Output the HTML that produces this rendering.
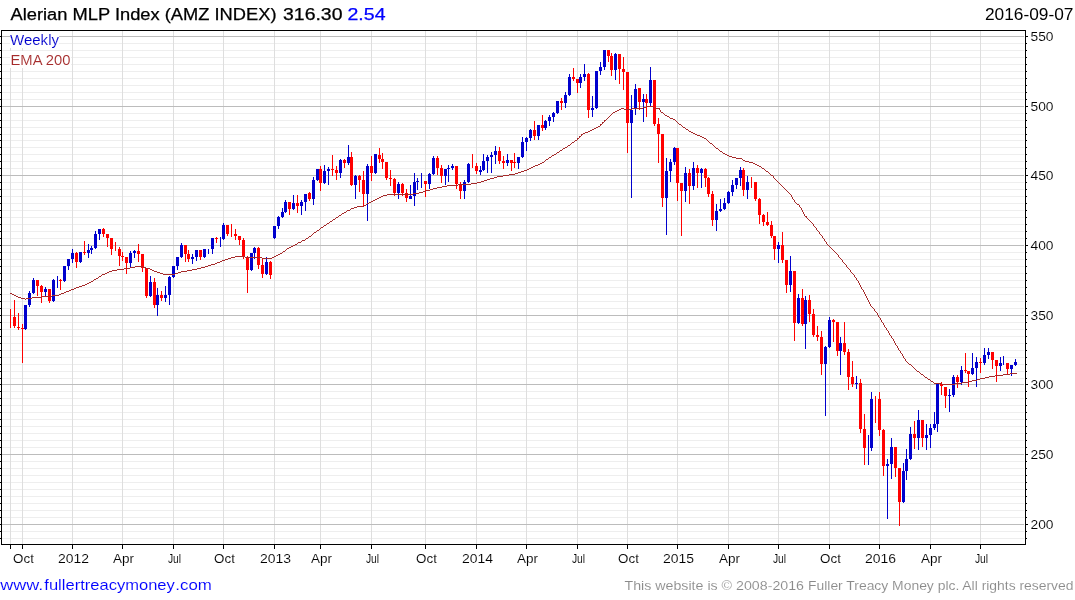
<!DOCTYPE html><html><head><meta charset="utf-8"><title>Alerian MLP Index</title>
<style>html,body{margin:0;padding:0;background:#fff;}body{width:1075px;height:600px;overflow:hidden;font-family:"Liberation Sans",sans-serif;}svg{display:block}text{font-family:"Liberation Sans",sans-serif;stroke:#fff;stroke-width:0.1px;}svg{will-change:transform;opacity:0.999}</style></head><body>
<svg width="1075" height="600" viewBox="0 0 1075 600">
<rect x="0" y="0" width="1075" height="600" fill="#fff"/>
<g shape-rendering="crispEdges">
<rect x="2" y="538" width="1022" height="1" fill="#eeeeee"/>
<rect x="2" y="531" width="1022" height="1" fill="#eeeeee"/>
<rect x="2" y="517" width="1022" height="1" fill="#eeeeee"/>
<rect x="2" y="510" width="1022" height="1" fill="#eeeeee"/>
<rect x="2" y="503" width="1022" height="1" fill="#eeeeee"/>
<rect x="2" y="496" width="1022" height="1" fill="#eeeeee"/>
<rect x="2" y="489" width="1022" height="1" fill="#eeeeee"/>
<rect x="2" y="482" width="1022" height="1" fill="#eeeeee"/>
<rect x="2" y="475" width="1022" height="1" fill="#eeeeee"/>
<rect x="2" y="468" width="1022" height="1" fill="#eeeeee"/>
<rect x="2" y="461" width="1022" height="1" fill="#eeeeee"/>
<rect x="2" y="447" width="1022" height="1" fill="#eeeeee"/>
<rect x="2" y="440" width="1022" height="1" fill="#eeeeee"/>
<rect x="2" y="433" width="1022" height="1" fill="#eeeeee"/>
<rect x="2" y="426" width="1022" height="1" fill="#eeeeee"/>
<rect x="2" y="419" width="1022" height="1" fill="#eeeeee"/>
<rect x="2" y="412" width="1022" height="1" fill="#eeeeee"/>
<rect x="2" y="405" width="1022" height="1" fill="#eeeeee"/>
<rect x="2" y="398" width="1022" height="1" fill="#eeeeee"/>
<rect x="2" y="391" width="1022" height="1" fill="#eeeeee"/>
<rect x="2" y="378" width="1022" height="1" fill="#eeeeee"/>
<rect x="2" y="371" width="1022" height="1" fill="#eeeeee"/>
<rect x="2" y="364" width="1022" height="1" fill="#eeeeee"/>
<rect x="2" y="357" width="1022" height="1" fill="#eeeeee"/>
<rect x="2" y="350" width="1022" height="1" fill="#eeeeee"/>
<rect x="2" y="343" width="1022" height="1" fill="#eeeeee"/>
<rect x="2" y="336" width="1022" height="1" fill="#eeeeee"/>
<rect x="2" y="329" width="1022" height="1" fill="#eeeeee"/>
<rect x="2" y="322" width="1022" height="1" fill="#eeeeee"/>
<rect x="2" y="308" width="1022" height="1" fill="#eeeeee"/>
<rect x="2" y="301" width="1022" height="1" fill="#eeeeee"/>
<rect x="2" y="294" width="1022" height="1" fill="#eeeeee"/>
<rect x="2" y="287" width="1022" height="1" fill="#eeeeee"/>
<rect x="2" y="280" width="1022" height="1" fill="#eeeeee"/>
<rect x="2" y="273" width="1022" height="1" fill="#eeeeee"/>
<rect x="2" y="266" width="1022" height="1" fill="#eeeeee"/>
<rect x="2" y="259" width="1022" height="1" fill="#eeeeee"/>
<rect x="2" y="252" width="1022" height="1" fill="#eeeeee"/>
<rect x="2" y="238" width="1022" height="1" fill="#eeeeee"/>
<rect x="2" y="231" width="1022" height="1" fill="#eeeeee"/>
<rect x="2" y="224" width="1022" height="1" fill="#eeeeee"/>
<rect x="2" y="217" width="1022" height="1" fill="#eeeeee"/>
<rect x="2" y="210" width="1022" height="1" fill="#eeeeee"/>
<rect x="2" y="203" width="1022" height="1" fill="#eeeeee"/>
<rect x="2" y="196" width="1022" height="1" fill="#eeeeee"/>
<rect x="2" y="189" width="1022" height="1" fill="#eeeeee"/>
<rect x="2" y="182" width="1022" height="1" fill="#eeeeee"/>
<rect x="2" y="168" width="1022" height="1" fill="#eeeeee"/>
<rect x="2" y="161" width="1022" height="1" fill="#eeeeee"/>
<rect x="2" y="154" width="1022" height="1" fill="#eeeeee"/>
<rect x="2" y="147" width="1022" height="1" fill="#eeeeee"/>
<rect x="2" y="140" width="1022" height="1" fill="#eeeeee"/>
<rect x="2" y="134" width="1022" height="1" fill="#eeeeee"/>
<rect x="2" y="127" width="1022" height="1" fill="#eeeeee"/>
<rect x="2" y="120" width="1022" height="1" fill="#eeeeee"/>
<rect x="2" y="113" width="1022" height="1" fill="#eeeeee"/>
<rect x="2" y="99" width="1022" height="1" fill="#eeeeee"/>
<rect x="2" y="92" width="1022" height="1" fill="#eeeeee"/>
<rect x="2" y="85" width="1022" height="1" fill="#eeeeee"/>
<rect x="2" y="78" width="1022" height="1" fill="#eeeeee"/>
<rect x="2" y="71" width="1022" height="1" fill="#eeeeee"/>
<rect x="2" y="64" width="1022" height="1" fill="#eeeeee"/>
<rect x="2" y="57" width="1022" height="1" fill="#eeeeee"/>
<rect x="2" y="50" width="1022" height="1" fill="#eeeeee"/>
<rect x="2" y="43" width="1022" height="1" fill="#eeeeee"/>
<rect x="10" y="31" width="1" height="513" fill="#dedede"/>
<rect x="22" y="31" width="1" height="513" fill="#dedede"/>
<rect x="72" y="31" width="1" height="513" fill="#dedede"/>
<rect x="122" y="31" width="1" height="513" fill="#dedede"/>
<rect x="173" y="31" width="1" height="513" fill="#dedede"/>
<rect x="223" y="31" width="1" height="513" fill="#dedede"/>
<rect x="274" y="31" width="1" height="513" fill="#dedede"/>
<rect x="320" y="31" width="1" height="513" fill="#dedede"/>
<rect x="371" y="31" width="1" height="513" fill="#dedede"/>
<rect x="425" y="31" width="1" height="513" fill="#dedede"/>
<rect x="476" y="31" width="1" height="513" fill="#dedede"/>
<rect x="526" y="31" width="1" height="513" fill="#dedede"/>
<rect x="577" y="31" width="1" height="513" fill="#dedede"/>
<rect x="627" y="31" width="1" height="513" fill="#dedede"/>
<rect x="677" y="31" width="1" height="513" fill="#dedede"/>
<rect x="728" y="31" width="1" height="513" fill="#dedede"/>
<rect x="778" y="31" width="1" height="513" fill="#dedede"/>
<rect x="829" y="31" width="1" height="513" fill="#dedede"/>
<rect x="879" y="31" width="1" height="513" fill="#dedede"/>
<rect x="930" y="31" width="1" height="513" fill="#dedede"/>
<rect x="980" y="31" width="1" height="513" fill="#dedede"/>
<rect x="2" y="524" width="1022" height="1" fill="#bcbcbc"/>
<rect x="2" y="454" width="1022" height="1" fill="#bcbcbc"/>
<rect x="2" y="384" width="1022" height="1" fill="#bcbcbc"/>
<rect x="2" y="315" width="1022" height="1" fill="#bcbcbc"/>
<rect x="2" y="245" width="1022" height="1" fill="#bcbcbc"/>
<rect x="2" y="175" width="1022" height="1" fill="#bcbcbc"/>
<rect x="2" y="106" width="1022" height="1" fill="#bcbcbc"/>
<rect x="2" y="36" width="1022" height="1" fill="#bcbcbc"/>
<rect x="10" y="31" width="49" height="17" fill="#fff"/>
<rect x="10" y="51" width="61" height="17" fill="#fff"/>
</g>
<g shape-rendering="crispEdges">
<rect x="10" y="309" width="1" height="19" fill="#ff0000"/>
<rect x="14" y="300" width="1" height="28" fill="#ff0000"/>
<rect x="13" y="317" width="3" height="9" fill="#ff0000"/>
<rect x="18" y="313" width="1" height="17" fill="#ff0000"/>
<rect x="17" y="327" width="3" height="1" fill="#ff0000"/>
<rect x="22" y="324" width="1" height="39" fill="#ff0000"/>
<rect x="21" y="328" width="3" height="1" fill="#ff0000"/>
<rect x="25" y="305" width="1" height="25" fill="#0000cd"/>
<rect x="24" y="305" width="3" height="24" fill="#0000cd"/>
<rect x="29" y="291" width="1" height="16" fill="#0000cd"/>
<rect x="28" y="293" width="3" height="12" fill="#0000cd"/>
<rect x="33" y="278" width="1" height="16" fill="#0000cd"/>
<rect x="32" y="280" width="3" height="13" fill="#0000cd"/>
<rect x="37" y="280" width="1" height="16" fill="#ff0000"/>
<rect x="36" y="280" width="3" height="6" fill="#ff0000"/>
<rect x="41" y="285" width="1" height="18" fill="#ff0000"/>
<rect x="40" y="286" width="3" height="6" fill="#ff0000"/>
<rect x="45" y="287" width="1" height="9" fill="#0000cd"/>
<rect x="44" y="289" width="3" height="3" fill="#0000cd"/>
<rect x="49" y="289" width="1" height="14" fill="#ff0000"/>
<rect x="48" y="289" width="3" height="12" fill="#ff0000"/>
<rect x="53" y="279" width="1" height="23" fill="#0000cd"/>
<rect x="52" y="280" width="3" height="21" fill="#0000cd"/>
<rect x="57" y="276" width="1" height="12" fill="#0000cd"/>
<rect x="60" y="279" width="1" height="11" fill="#ff0000"/>
<rect x="59" y="280" width="3" height="1" fill="#ff0000"/>
<rect x="64" y="266" width="1" height="16" fill="#0000cd"/>
<rect x="63" y="266" width="3" height="15" fill="#0000cd"/>
<rect x="68" y="259" width="1" height="11" fill="#0000cd"/>
<rect x="67" y="259" width="3" height="7" fill="#0000cd"/>
<rect x="72" y="249" width="1" height="14" fill="#0000cd"/>
<rect x="71" y="253" width="3" height="6" fill="#0000cd"/>
<rect x="76" y="252" width="1" height="16" fill="#ff0000"/>
<rect x="75" y="253" width="3" height="9" fill="#ff0000"/>
<rect x="80" y="252" width="1" height="11" fill="#0000cd"/>
<rect x="79" y="252" width="3" height="10" fill="#0000cd"/>
<rect x="84" y="241" width="1" height="14" fill="#ff0000"/>
<rect x="83" y="252" width="3" height="1" fill="#ff0000"/>
<rect x="88" y="244" width="1" height="14" fill="#0000cd"/>
<rect x="87" y="250" width="3" height="3" fill="#0000cd"/>
<rect x="91" y="246" width="1" height="8" fill="#0000cd"/>
<rect x="90" y="248" width="3" height="2" fill="#0000cd"/>
<rect x="95" y="231" width="1" height="18" fill="#0000cd"/>
<rect x="94" y="234" width="3" height="14" fill="#0000cd"/>
<rect x="99" y="229" width="1" height="11" fill="#0000cd"/>
<rect x="98" y="229" width="3" height="5" fill="#0000cd"/>
<rect x="103" y="228" width="1" height="9" fill="#ff0000"/>
<rect x="102" y="229" width="3" height="5" fill="#ff0000"/>
<rect x="107" y="234" width="1" height="13" fill="#ff0000"/>
<rect x="106" y="234" width="3" height="4" fill="#ff0000"/>
<rect x="111" y="238" width="1" height="17" fill="#ff0000"/>
<rect x="110" y="238" width="3" height="11" fill="#ff0000"/>
<rect x="115" y="242" width="1" height="9" fill="#ff0000"/>
<rect x="119" y="247" width="1" height="19" fill="#ff0000"/>
<rect x="118" y="249" width="3" height="7" fill="#ff0000"/>
<rect x="122" y="252" width="1" height="9" fill="#ff0000"/>
<rect x="121" y="256" width="3" height="1" fill="#ff0000"/>
<rect x="126" y="257" width="1" height="17" fill="#ff0000"/>
<rect x="125" y="257" width="3" height="6" fill="#ff0000"/>
<rect x="130" y="251" width="1" height="16" fill="#0000cd"/>
<rect x="129" y="253" width="3" height="10" fill="#0000cd"/>
<rect x="134" y="250" width="1" height="8" fill="#0000cd"/>
<rect x="133" y="251" width="3" height="2" fill="#0000cd"/>
<rect x="138" y="244" width="1" height="18" fill="#ff0000"/>
<rect x="137" y="251" width="3" height="3" fill="#ff0000"/>
<rect x="142" y="254" width="1" height="18" fill="#ff0000"/>
<rect x="141" y="254" width="3" height="14" fill="#ff0000"/>
<rect x="146" y="268" width="1" height="30" fill="#ff0000"/>
<rect x="145" y="268" width="3" height="28" fill="#ff0000"/>
<rect x="150" y="276" width="1" height="21" fill="#0000cd"/>
<rect x="149" y="282" width="3" height="14" fill="#0000cd"/>
<rect x="154" y="278" width="1" height="30" fill="#ff0000"/>
<rect x="153" y="282" width="3" height="23" fill="#ff0000"/>
<rect x="157" y="288" width="1" height="28" fill="#0000cd"/>
<rect x="156" y="295" width="3" height="10" fill="#0000cd"/>
<rect x="161" y="291" width="1" height="10" fill="#ff0000"/>
<rect x="160" y="295" width="3" height="3" fill="#ff0000"/>
<rect x="165" y="286" width="1" height="16" fill="#0000cd"/>
<rect x="164" y="295" width="3" height="3" fill="#0000cd"/>
<rect x="169" y="276" width="1" height="29" fill="#0000cd"/>
<rect x="168" y="277" width="3" height="18" fill="#0000cd"/>
<rect x="173" y="266" width="1" height="12" fill="#0000cd"/>
<rect x="172" y="266" width="3" height="11" fill="#0000cd"/>
<rect x="177" y="257" width="1" height="13" fill="#0000cd"/>
<rect x="176" y="257" width="3" height="9" fill="#0000cd"/>
<rect x="181" y="243" width="1" height="15" fill="#0000cd"/>
<rect x="180" y="245" width="3" height="12" fill="#0000cd"/>
<rect x="185" y="245" width="1" height="17" fill="#ff0000"/>
<rect x="184" y="245" width="3" height="9" fill="#ff0000"/>
<rect x="188" y="250" width="1" height="12" fill="#ff0000"/>
<rect x="187" y="254" width="3" height="5" fill="#ff0000"/>
<rect x="192" y="254" width="1" height="10" fill="#0000cd"/>
<rect x="191" y="257" width="3" height="2" fill="#0000cd"/>
<rect x="196" y="250" width="1" height="11" fill="#0000cd"/>
<rect x="195" y="250" width="3" height="7" fill="#0000cd"/>
<rect x="200" y="250" width="1" height="10" fill="#ff0000"/>
<rect x="199" y="250" width="3" height="7" fill="#ff0000"/>
<rect x="204" y="249" width="1" height="9" fill="#0000cd"/>
<rect x="203" y="249" width="3" height="8" fill="#0000cd"/>
<rect x="208" y="249" width="1" height="5" fill="#0000cd"/>
<rect x="212" y="238" width="1" height="16" fill="#0000cd"/>
<rect x="211" y="238" width="3" height="11" fill="#0000cd"/>
<rect x="216" y="237" width="1" height="6" fill="#ff0000"/>
<rect x="215" y="238" width="3" height="1" fill="#ff0000"/>
<rect x="220" y="237" width="1" height="10" fill="#0000cd"/>
<rect x="223" y="223" width="1" height="17" fill="#0000cd"/>
<rect x="222" y="225" width="3" height="14" fill="#0000cd"/>
<rect x="227" y="225" width="1" height="11" fill="#ff0000"/>
<rect x="226" y="225" width="3" height="9" fill="#ff0000"/>
<rect x="231" y="224" width="1" height="13" fill="#ff0000"/>
<rect x="235" y="229" width="1" height="11" fill="#ff0000"/>
<rect x="234" y="234" width="3" height="2" fill="#ff0000"/>
<rect x="239" y="236" width="1" height="9" fill="#ff0000"/>
<rect x="238" y="236" width="3" height="4" fill="#ff0000"/>
<rect x="243" y="238" width="1" height="21" fill="#ff0000"/>
<rect x="242" y="240" width="3" height="16" fill="#ff0000"/>
<rect x="247" y="256" width="1" height="37" fill="#ff0000"/>
<rect x="246" y="257" width="3" height="13" fill="#ff0000"/>
<rect x="251" y="253" width="1" height="18" fill="#0000cd"/>
<rect x="250" y="253" width="3" height="17" fill="#0000cd"/>
<rect x="254" y="247" width="1" height="12" fill="#0000cd"/>
<rect x="253" y="248" width="3" height="5" fill="#0000cd"/>
<rect x="258" y="247" width="1" height="22" fill="#ff0000"/>
<rect x="257" y="248" width="3" height="17" fill="#ff0000"/>
<rect x="262" y="259" width="1" height="19" fill="#ff0000"/>
<rect x="261" y="265" width="3" height="9" fill="#ff0000"/>
<rect x="266" y="257" width="1" height="18" fill="#0000cd"/>
<rect x="265" y="262" width="3" height="12" fill="#0000cd"/>
<rect x="270" y="261" width="1" height="18" fill="#ff0000"/>
<rect x="269" y="262" width="3" height="13" fill="#ff0000"/>
<rect x="274" y="226" width="1" height="13" fill="#0000cd"/>
<rect x="273" y="226" width="3" height="12" fill="#0000cd"/>
<rect x="278" y="216" width="1" height="13" fill="#0000cd"/>
<rect x="277" y="217" width="3" height="9" fill="#0000cd"/>
<rect x="282" y="208" width="1" height="10" fill="#0000cd"/>
<rect x="281" y="212" width="3" height="5" fill="#0000cd"/>
<rect x="285" y="200" width="1" height="13" fill="#0000cd"/>
<rect x="284" y="202" width="3" height="10" fill="#0000cd"/>
<rect x="289" y="202" width="1" height="13" fill="#ff0000"/>
<rect x="288" y="202" width="3" height="7" fill="#ff0000"/>
<rect x="293" y="195" width="1" height="15" fill="#0000cd"/>
<rect x="292" y="203" width="3" height="6" fill="#0000cd"/>
<rect x="297" y="195" width="1" height="18" fill="#ff0000"/>
<rect x="296" y="203" width="3" height="3" fill="#ff0000"/>
<rect x="301" y="200" width="1" height="15" fill="#0000cd"/>
<rect x="300" y="202" width="3" height="4" fill="#0000cd"/>
<rect x="305" y="194" width="1" height="17" fill="#0000cd"/>
<rect x="304" y="194" width="3" height="8" fill="#0000cd"/>
<rect x="309" y="192" width="1" height="9" fill="#ff0000"/>
<rect x="308" y="193" width="3" height="6" fill="#ff0000"/>
<rect x="313" y="177" width="1" height="28" fill="#0000cd"/>
<rect x="312" y="180" width="3" height="19" fill="#0000cd"/>
<rect x="317" y="169" width="1" height="12" fill="#0000cd"/>
<rect x="316" y="169" width="3" height="11" fill="#0000cd"/>
<rect x="320" y="166" width="1" height="25" fill="#ff0000"/>
<rect x="319" y="169" width="3" height="14" fill="#ff0000"/>
<rect x="324" y="165" width="1" height="19" fill="#0000cd"/>
<rect x="323" y="171" width="3" height="12" fill="#0000cd"/>
<rect x="328" y="167" width="1" height="18" fill="#0000cd"/>
<rect x="327" y="169" width="3" height="2" fill="#0000cd"/>
<rect x="332" y="155" width="1" height="21" fill="#ff0000"/>
<rect x="331" y="169" width="3" height="1" fill="#ff0000"/>
<rect x="336" y="166" width="1" height="14" fill="#ff0000"/>
<rect x="335" y="170" width="3" height="3" fill="#ff0000"/>
<rect x="340" y="159" width="1" height="19" fill="#0000cd"/>
<rect x="339" y="160" width="3" height="13" fill="#0000cd"/>
<rect x="344" y="159" width="1" height="9" fill="#ff0000"/>
<rect x="343" y="160" width="3" height="3" fill="#ff0000"/>
<rect x="348" y="145" width="1" height="20" fill="#0000cd"/>
<rect x="347" y="157" width="3" height="6" fill="#0000cd"/>
<rect x="351" y="152" width="1" height="34" fill="#ff0000"/>
<rect x="350" y="157" width="3" height="28" fill="#ff0000"/>
<rect x="355" y="175" width="1" height="24" fill="#0000cd"/>
<rect x="354" y="176" width="3" height="9" fill="#0000cd"/>
<rect x="359" y="175" width="1" height="17" fill="#ff0000"/>
<rect x="358" y="176" width="3" height="4" fill="#ff0000"/>
<rect x="363" y="171" width="1" height="35" fill="#ff0000"/>
<rect x="362" y="180" width="3" height="14" fill="#ff0000"/>
<rect x="367" y="164" width="1" height="57" fill="#0000cd"/>
<rect x="366" y="166" width="3" height="28" fill="#0000cd"/>
<rect x="371" y="156" width="1" height="25" fill="#ff0000"/>
<rect x="370" y="166" width="3" height="7" fill="#ff0000"/>
<rect x="375" y="154" width="1" height="20" fill="#0000cd"/>
<rect x="374" y="154" width="3" height="19" fill="#0000cd"/>
<rect x="379" y="148" width="1" height="15" fill="#ff0000"/>
<rect x="378" y="155" width="3" height="4" fill="#ff0000"/>
<rect x="382" y="153" width="1" height="16" fill="#ff0000"/>
<rect x="381" y="159" width="3" height="3" fill="#ff0000"/>
<rect x="386" y="162" width="1" height="18" fill="#ff0000"/>
<rect x="385" y="162" width="3" height="16" fill="#ff0000"/>
<rect x="390" y="170" width="1" height="16" fill="#ff0000"/>
<rect x="389" y="178" width="3" height="1" fill="#ff0000"/>
<rect x="394" y="178" width="1" height="18" fill="#ff0000"/>
<rect x="393" y="179" width="3" height="14" fill="#ff0000"/>
<rect x="398" y="182" width="1" height="17" fill="#0000cd"/>
<rect x="397" y="184" width="3" height="9" fill="#0000cd"/>
<rect x="402" y="183" width="1" height="13" fill="#ff0000"/>
<rect x="401" y="184" width="3" height="9" fill="#ff0000"/>
<rect x="406" y="189" width="1" height="13" fill="#ff0000"/>
<rect x="405" y="193" width="3" height="5" fill="#ff0000"/>
<rect x="410" y="185" width="1" height="14" fill="#0000cd"/>
<rect x="409" y="196" width="3" height="3" fill="#0000cd"/>
<rect x="414" y="173" width="1" height="33" fill="#0000cd"/>
<rect x="413" y="182" width="3" height="14" fill="#0000cd"/>
<rect x="417" y="178" width="1" height="12" fill="#0000cd"/>
<rect x="416" y="181" width="3" height="1" fill="#0000cd"/>
<rect x="421" y="173" width="1" height="15" fill="#0000cd"/>
<rect x="425" y="181" width="1" height="16" fill="#ff0000"/>
<rect x="424" y="181" width="3" height="3" fill="#ff0000"/>
<rect x="429" y="173" width="1" height="16" fill="#0000cd"/>
<rect x="428" y="174" width="3" height="10" fill="#0000cd"/>
<rect x="433" y="156" width="1" height="19" fill="#0000cd"/>
<rect x="432" y="158" width="3" height="16" fill="#0000cd"/>
<rect x="437" y="156" width="1" height="19" fill="#ff0000"/>
<rect x="436" y="158" width="3" height="10" fill="#ff0000"/>
<rect x="441" y="165" width="1" height="18" fill="#ff0000"/>
<rect x="440" y="168" width="3" height="8" fill="#ff0000"/>
<rect x="445" y="169" width="1" height="16" fill="#0000cd"/>
<rect x="444" y="169" width="3" height="7" fill="#0000cd"/>
<rect x="448" y="165" width="1" height="17" fill="#0000cd"/>
<rect x="447" y="168" width="3" height="1" fill="#0000cd"/>
<rect x="452" y="164" width="1" height="6" fill="#0000cd"/>
<rect x="451" y="166" width="3" height="2" fill="#0000cd"/>
<rect x="456" y="166" width="1" height="23" fill="#ff0000"/>
<rect x="455" y="166" width="3" height="18" fill="#ff0000"/>
<rect x="460" y="182" width="1" height="17" fill="#ff0000"/>
<rect x="459" y="184" width="3" height="7" fill="#ff0000"/>
<rect x="464" y="180" width="1" height="19" fill="#0000cd"/>
<rect x="463" y="182" width="3" height="9" fill="#0000cd"/>
<rect x="468" y="163" width="1" height="20" fill="#0000cd"/>
<rect x="467" y="164" width="3" height="18" fill="#0000cd"/>
<rect x="472" y="154" width="1" height="14" fill="#ff0000"/>
<rect x="476" y="163" width="1" height="11" fill="#ff0000"/>
<rect x="475" y="166" width="3" height="5" fill="#ff0000"/>
<rect x="480" y="166" width="1" height="9" fill="#0000cd"/>
<rect x="479" y="170" width="3" height="2" fill="#0000cd"/>
<rect x="483" y="154" width="1" height="17" fill="#0000cd"/>
<rect x="482" y="161" width="3" height="9" fill="#0000cd"/>
<rect x="487" y="155" width="1" height="18" fill="#0000cd"/>
<rect x="486" y="157" width="3" height="4" fill="#0000cd"/>
<rect x="491" y="152" width="1" height="21" fill="#0000cd"/>
<rect x="490" y="155" width="3" height="2" fill="#0000cd"/>
<rect x="495" y="146" width="1" height="18" fill="#0000cd"/>
<rect x="494" y="151" width="3" height="4" fill="#0000cd"/>
<rect x="499" y="147" width="1" height="17" fill="#ff0000"/>
<rect x="498" y="151" width="3" height="10" fill="#ff0000"/>
<rect x="503" y="156" width="1" height="13" fill="#ff0000"/>
<rect x="502" y="161" width="3" height="2" fill="#ff0000"/>
<rect x="507" y="154" width="1" height="12" fill="#0000cd"/>
<rect x="506" y="160" width="3" height="3" fill="#0000cd"/>
<rect x="511" y="160" width="1" height="11" fill="#ff0000"/>
<rect x="510" y="160" width="3" height="3" fill="#ff0000"/>
<rect x="514" y="153" width="1" height="15" fill="#ff0000"/>
<rect x="513" y="162" width="3" height="1" fill="#ff0000"/>
<rect x="518" y="157" width="1" height="12" fill="#0000cd"/>
<rect x="517" y="157" width="3" height="6" fill="#0000cd"/>
<rect x="522" y="137" width="1" height="21" fill="#0000cd"/>
<rect x="521" y="142" width="3" height="15" fill="#0000cd"/>
<rect x="526" y="137" width="1" height="14" fill="#0000cd"/>
<rect x="525" y="138" width="3" height="4" fill="#0000cd"/>
<rect x="530" y="129" width="1" height="12" fill="#0000cd"/>
<rect x="529" y="130" width="3" height="8" fill="#0000cd"/>
<rect x="534" y="121" width="1" height="19" fill="#ff0000"/>
<rect x="533" y="130" width="3" height="6" fill="#ff0000"/>
<rect x="538" y="125" width="1" height="15" fill="#0000cd"/>
<rect x="537" y="125" width="3" height="11" fill="#0000cd"/>
<rect x="542" y="115" width="1" height="16" fill="#ff0000"/>
<rect x="541" y="125" width="3" height="3" fill="#ff0000"/>
<rect x="545" y="120" width="1" height="10" fill="#0000cd"/>
<rect x="544" y="121" width="3" height="7" fill="#0000cd"/>
<rect x="549" y="115" width="1" height="11" fill="#0000cd"/>
<rect x="548" y="117" width="3" height="4" fill="#0000cd"/>
<rect x="553" y="112" width="1" height="10" fill="#0000cd"/>
<rect x="552" y="113" width="3" height="4" fill="#0000cd"/>
<rect x="557" y="101" width="1" height="13" fill="#0000cd"/>
<rect x="556" y="101" width="3" height="12" fill="#0000cd"/>
<rect x="561" y="98" width="1" height="12" fill="#ff0000"/>
<rect x="560" y="101" width="3" height="2" fill="#ff0000"/>
<rect x="565" y="92" width="1" height="16" fill="#0000cd"/>
<rect x="564" y="95" width="3" height="8" fill="#0000cd"/>
<rect x="569" y="74" width="1" height="22" fill="#0000cd"/>
<rect x="568" y="77" width="3" height="18" fill="#0000cd"/>
<rect x="573" y="68" width="1" height="13" fill="#ff0000"/>
<rect x="572" y="77" width="3" height="2" fill="#ff0000"/>
<rect x="577" y="79" width="1" height="14" fill="#ff0000"/>
<rect x="576" y="79" width="3" height="4" fill="#ff0000"/>
<rect x="580" y="74" width="1" height="14" fill="#0000cd"/>
<rect x="579" y="77" width="3" height="6" fill="#0000cd"/>
<rect x="584" y="64" width="1" height="17" fill="#0000cd"/>
<rect x="583" y="74" width="3" height="3" fill="#0000cd"/>
<rect x="588" y="73" width="1" height="45" fill="#ff0000"/>
<rect x="587" y="74" width="3" height="36" fill="#ff0000"/>
<rect x="592" y="96" width="1" height="21" fill="#0000cd"/>
<rect x="591" y="108" width="3" height="2" fill="#0000cd"/>
<rect x="596" y="71" width="1" height="38" fill="#0000cd"/>
<rect x="595" y="71" width="3" height="37" fill="#0000cd"/>
<rect x="600" y="62" width="1" height="13" fill="#0000cd"/>
<rect x="599" y="67" width="3" height="4" fill="#0000cd"/>
<rect x="604" y="50" width="1" height="20" fill="#0000cd"/>
<rect x="603" y="50" width="3" height="17" fill="#0000cd"/>
<rect x="608" y="50" width="1" height="12" fill="#ff0000"/>
<rect x="607" y="50" width="3" height="6" fill="#ff0000"/>
<rect x="611" y="53" width="1" height="23" fill="#ff0000"/>
<rect x="610" y="56" width="3" height="14" fill="#ff0000"/>
<rect x="615" y="53" width="1" height="27" fill="#0000cd"/>
<rect x="614" y="54" width="3" height="16" fill="#0000cd"/>
<rect x="619" y="54" width="1" height="30" fill="#ff0000"/>
<rect x="618" y="54" width="3" height="15" fill="#ff0000"/>
<rect x="623" y="57" width="1" height="33" fill="#ff0000"/>
<rect x="622" y="69" width="3" height="3" fill="#ff0000"/>
<rect x="627" y="72" width="1" height="81" fill="#ff0000"/>
<rect x="626" y="72" width="3" height="51" fill="#ff0000"/>
<rect x="631" y="95" width="1" height="103" fill="#0000cd"/>
<rect x="630" y="110" width="3" height="13" fill="#0000cd"/>
<rect x="635" y="84" width="1" height="31" fill="#0000cd"/>
<rect x="634" y="89" width="3" height="19" fill="#0000cd"/>
<rect x="639" y="88" width="1" height="22" fill="#ff0000"/>
<rect x="638" y="88" width="3" height="14" fill="#ff0000"/>
<rect x="643" y="94" width="1" height="28" fill="#0000cd"/>
<rect x="642" y="99" width="3" height="3" fill="#0000cd"/>
<rect x="646" y="94" width="1" height="23" fill="#ff0000"/>
<rect x="645" y="99" width="3" height="4" fill="#ff0000"/>
<rect x="650" y="67" width="1" height="40" fill="#0000cd"/>
<rect x="649" y="80" width="3" height="23" fill="#0000cd"/>
<rect x="654" y="80" width="1" height="46" fill="#ff0000"/>
<rect x="653" y="80" width="3" height="44" fill="#ff0000"/>
<rect x="658" y="118" width="1" height="45" fill="#ff0000"/>
<rect x="657" y="124" width="3" height="10" fill="#ff0000"/>
<rect x="662" y="134" width="1" height="73" fill="#ff0000"/>
<rect x="661" y="134" width="3" height="64" fill="#ff0000"/>
<rect x="666" y="158" width="1" height="77" fill="#0000cd"/>
<rect x="665" y="171" width="3" height="27" fill="#0000cd"/>
<rect x="670" y="159" width="1" height="23" fill="#0000cd"/>
<rect x="669" y="162" width="3" height="9" fill="#0000cd"/>
<rect x="674" y="147" width="1" height="18" fill="#0000cd"/>
<rect x="673" y="148" width="3" height="14" fill="#0000cd"/>
<rect x="677" y="148" width="1" height="53" fill="#ff0000"/>
<rect x="676" y="148" width="3" height="35" fill="#ff0000"/>
<rect x="681" y="183" width="1" height="53" fill="#ff0000"/>
<rect x="680" y="183" width="3" height="8" fill="#ff0000"/>
<rect x="685" y="167" width="1" height="35" fill="#0000cd"/>
<rect x="684" y="173" width="3" height="18" fill="#0000cd"/>
<rect x="689" y="169" width="1" height="35" fill="#ff0000"/>
<rect x="688" y="173" width="3" height="13" fill="#ff0000"/>
<rect x="693" y="162" width="1" height="28" fill="#0000cd"/>
<rect x="692" y="168" width="3" height="18" fill="#0000cd"/>
<rect x="697" y="165" width="1" height="23" fill="#ff0000"/>
<rect x="696" y="168" width="3" height="5" fill="#ff0000"/>
<rect x="701" y="168" width="1" height="20" fill="#0000cd"/>
<rect x="700" y="169" width="3" height="4" fill="#0000cd"/>
<rect x="705" y="168" width="1" height="19" fill="#ff0000"/>
<rect x="704" y="169" width="3" height="9" fill="#ff0000"/>
<rect x="708" y="177" width="1" height="20" fill="#ff0000"/>
<rect x="707" y="178" width="3" height="16" fill="#ff0000"/>
<rect x="712" y="191" width="1" height="35" fill="#ff0000"/>
<rect x="711" y="194" width="3" height="26" fill="#ff0000"/>
<rect x="716" y="204" width="1" height="27" fill="#0000cd"/>
<rect x="715" y="211" width="3" height="9" fill="#0000cd"/>
<rect x="720" y="199" width="1" height="13" fill="#0000cd"/>
<rect x="719" y="209" width="3" height="2" fill="#0000cd"/>
<rect x="724" y="198" width="1" height="12" fill="#0000cd"/>
<rect x="723" y="203" width="3" height="6" fill="#0000cd"/>
<rect x="728" y="191" width="1" height="13" fill="#0000cd"/>
<rect x="727" y="192" width="3" height="11" fill="#0000cd"/>
<rect x="732" y="180" width="1" height="16" fill="#0000cd"/>
<rect x="731" y="185" width="3" height="7" fill="#0000cd"/>
<rect x="736" y="178" width="1" height="11" fill="#0000cd"/>
<rect x="735" y="178" width="3" height="7" fill="#0000cd"/>
<rect x="740" y="167" width="1" height="19" fill="#0000cd"/>
<rect x="739" y="170" width="3" height="8" fill="#0000cd"/>
<rect x="743" y="168" width="1" height="28" fill="#ff0000"/>
<rect x="742" y="170" width="3" height="20" fill="#ff0000"/>
<rect x="747" y="176" width="1" height="23" fill="#0000cd"/>
<rect x="746" y="182" width="3" height="8" fill="#0000cd"/>
<rect x="751" y="177" width="1" height="11" fill="#ff0000"/>
<rect x="755" y="182" width="1" height="19" fill="#ff0000"/>
<rect x="754" y="182" width="3" height="17" fill="#ff0000"/>
<rect x="759" y="198" width="1" height="26" fill="#ff0000"/>
<rect x="758" y="199" width="3" height="16" fill="#ff0000"/>
<rect x="763" y="214" width="1" height="12" fill="#ff0000"/>
<rect x="762" y="215" width="3" height="7" fill="#ff0000"/>
<rect x="767" y="212" width="1" height="14" fill="#ff0000"/>
<rect x="766" y="222" width="3" height="3" fill="#ff0000"/>
<rect x="771" y="221" width="1" height="17" fill="#ff0000"/>
<rect x="770" y="225" width="3" height="11" fill="#ff0000"/>
<rect x="774" y="236" width="1" height="24" fill="#ff0000"/>
<rect x="773" y="236" width="3" height="13" fill="#ff0000"/>
<rect x="778" y="242" width="1" height="21" fill="#0000cd"/>
<rect x="777" y="245" width="3" height="4" fill="#0000cd"/>
<rect x="782" y="232" width="1" height="31" fill="#ff0000"/>
<rect x="781" y="245" width="3" height="15" fill="#ff0000"/>
<rect x="786" y="260" width="1" height="33" fill="#ff0000"/>
<rect x="785" y="260" width="3" height="25" fill="#ff0000"/>
<rect x="790" y="256" width="1" height="36" fill="#0000cd"/>
<rect x="789" y="271" width="3" height="14" fill="#0000cd"/>
<rect x="794" y="271" width="1" height="70" fill="#ff0000"/>
<rect x="793" y="271" width="3" height="52" fill="#ff0000"/>
<rect x="798" y="294" width="1" height="30" fill="#0000cd"/>
<rect x="797" y="298" width="3" height="25" fill="#0000cd"/>
<rect x="802" y="289" width="1" height="37" fill="#ff0000"/>
<rect x="801" y="298" width="3" height="26" fill="#ff0000"/>
<rect x="805" y="296" width="1" height="53" fill="#0000cd"/>
<rect x="804" y="300" width="3" height="24" fill="#0000cd"/>
<rect x="809" y="295" width="1" height="27" fill="#ff0000"/>
<rect x="808" y="300" width="3" height="14" fill="#ff0000"/>
<rect x="813" y="309" width="1" height="28" fill="#ff0000"/>
<rect x="812" y="314" width="3" height="21" fill="#ff0000"/>
<rect x="817" y="326" width="1" height="15" fill="#ff0000"/>
<rect x="816" y="335" width="3" height="2" fill="#ff0000"/>
<rect x="821" y="331" width="1" height="44" fill="#ff0000"/>
<rect x="820" y="337" width="3" height="27" fill="#ff0000"/>
<rect x="825" y="346" width="1" height="70" fill="#0000cd"/>
<rect x="824" y="347" width="3" height="17" fill="#0000cd"/>
<rect x="829" y="317" width="1" height="31" fill="#0000cd"/>
<rect x="828" y="320" width="3" height="27" fill="#0000cd"/>
<rect x="833" y="319" width="1" height="23" fill="#ff0000"/>
<rect x="832" y="320" width="3" height="2" fill="#ff0000"/>
<rect x="837" y="322" width="1" height="34" fill="#ff0000"/>
<rect x="836" y="322" width="3" height="29" fill="#ff0000"/>
<rect x="840" y="337" width="1" height="38" fill="#0000cd"/>
<rect x="839" y="343" width="3" height="8" fill="#0000cd"/>
<rect x="844" y="322" width="1" height="33" fill="#ff0000"/>
<rect x="843" y="343" width="3" height="9" fill="#ff0000"/>
<rect x="848" y="349" width="1" height="41" fill="#ff0000"/>
<rect x="847" y="352" width="3" height="25" fill="#ff0000"/>
<rect x="852" y="361" width="1" height="26" fill="#ff0000"/>
<rect x="851" y="377" width="3" height="7" fill="#ff0000"/>
<rect x="856" y="376" width="1" height="13" fill="#0000cd"/>
<rect x="855" y="383" width="3" height="1" fill="#0000cd"/>
<rect x="860" y="379" width="1" height="54" fill="#ff0000"/>
<rect x="859" y="383" width="3" height="46" fill="#ff0000"/>
<rect x="864" y="414" width="1" height="51" fill="#ff0000"/>
<rect x="863" y="429" width="3" height="19" fill="#ff0000"/>
<rect x="868" y="435" width="1" height="30" fill="#0000cd"/>
<rect x="871" y="392" width="1" height="59" fill="#0000cd"/>
<rect x="870" y="399" width="3" height="49" fill="#0000cd"/>
<rect x="875" y="396" width="1" height="27" fill="#ff0000"/>
<rect x="879" y="392" width="1" height="44" fill="#ff0000"/>
<rect x="878" y="399" width="3" height="31" fill="#ff0000"/>
<rect x="883" y="429" width="1" height="47" fill="#ff0000"/>
<rect x="882" y="430" width="3" height="36" fill="#ff0000"/>
<rect x="887" y="459" width="1" height="60" fill="#0000cd"/>
<rect x="886" y="464" width="3" height="2" fill="#0000cd"/>
<rect x="891" y="438" width="1" height="41" fill="#0000cd"/>
<rect x="890" y="447" width="3" height="17" fill="#0000cd"/>
<rect x="895" y="447" width="1" height="30" fill="#ff0000"/>
<rect x="894" y="447" width="3" height="21" fill="#ff0000"/>
<rect x="899" y="468" width="1" height="58" fill="#ff0000"/>
<rect x="898" y="468" width="3" height="34" fill="#ff0000"/>
<rect x="903" y="463" width="1" height="40" fill="#0000cd"/>
<rect x="902" y="471" width="3" height="31" fill="#0000cd"/>
<rect x="906" y="449" width="1" height="31" fill="#0000cd"/>
<rect x="905" y="459" width="3" height="12" fill="#0000cd"/>
<rect x="910" y="427" width="1" height="33" fill="#0000cd"/>
<rect x="909" y="434" width="3" height="25" fill="#0000cd"/>
<rect x="914" y="421" width="1" height="28" fill="#ff0000"/>
<rect x="913" y="434" width="3" height="4" fill="#ff0000"/>
<rect x="918" y="410" width="1" height="40" fill="#0000cd"/>
<rect x="917" y="420" width="3" height="18" fill="#0000cd"/>
<rect x="922" y="420" width="1" height="27" fill="#ff0000"/>
<rect x="921" y="420" width="3" height="18" fill="#ff0000"/>
<rect x="926" y="424" width="1" height="26" fill="#0000cd"/>
<rect x="925" y="435" width="3" height="3" fill="#0000cd"/>
<rect x="930" y="424" width="1" height="24" fill="#0000cd"/>
<rect x="929" y="428" width="3" height="7" fill="#0000cd"/>
<rect x="934" y="412" width="1" height="18" fill="#0000cd"/>
<rect x="933" y="424" width="3" height="4" fill="#0000cd"/>
<rect x="937" y="384" width="1" height="48" fill="#0000cd"/>
<rect x="936" y="384" width="3" height="40" fill="#0000cd"/>
<rect x="941" y="382" width="1" height="13" fill="#ff0000"/>
<rect x="940" y="384" width="3" height="2" fill="#ff0000"/>
<rect x="945" y="387" width="1" height="21" fill="#ff0000"/>
<rect x="944" y="387" width="3" height="9" fill="#ff0000"/>
<rect x="949" y="389" width="1" height="23" fill="#0000cd"/>
<rect x="948" y="395" width="3" height="1" fill="#0000cd"/>
<rect x="953" y="375" width="1" height="22" fill="#0000cd"/>
<rect x="952" y="377" width="3" height="18" fill="#0000cd"/>
<rect x="957" y="375" width="1" height="13" fill="#ff0000"/>
<rect x="956" y="377" width="3" height="5" fill="#ff0000"/>
<rect x="961" y="366" width="1" height="19" fill="#0000cd"/>
<rect x="960" y="370" width="3" height="12" fill="#0000cd"/>
<rect x="965" y="353" width="1" height="20" fill="#ff0000"/>
<rect x="964" y="370" width="3" height="1" fill="#ff0000"/>
<rect x="968" y="371" width="1" height="16" fill="#ff0000"/>
<rect x="967" y="371" width="3" height="3" fill="#ff0000"/>
<rect x="972" y="353" width="1" height="22" fill="#0000cd"/>
<rect x="971" y="368" width="3" height="6" fill="#0000cd"/>
<rect x="976" y="357" width="1" height="30" fill="#0000cd"/>
<rect x="975" y="362" width="3" height="6" fill="#0000cd"/>
<rect x="980" y="358" width="1" height="15" fill="#ff0000"/>
<rect x="979" y="362" width="3" height="1" fill="#ff0000"/>
<rect x="984" y="348" width="1" height="17" fill="#0000cd"/>
<rect x="983" y="355" width="3" height="8" fill="#0000cd"/>
<rect x="988" y="348" width="1" height="11" fill="#0000cd"/>
<rect x="987" y="352" width="3" height="3" fill="#0000cd"/>
<rect x="992" y="352" width="1" height="17" fill="#ff0000"/>
<rect x="991" y="352" width="3" height="8" fill="#ff0000"/>
<rect x="996" y="360" width="1" height="22" fill="#ff0000"/>
<rect x="995" y="360" width="3" height="6" fill="#ff0000"/>
<rect x="1000" y="357" width="1" height="14" fill="#0000cd"/>
<rect x="999" y="363" width="3" height="3" fill="#0000cd"/>
<rect x="1003" y="356" width="1" height="9" fill="#0000cd"/>
<rect x="1007" y="363" width="1" height="11" fill="#ff0000"/>
<rect x="1006" y="363" width="3" height="6" fill="#ff0000"/>
<rect x="1011" y="365" width="1" height="11" fill="#0000cd"/>
<rect x="1010" y="365" width="3" height="4" fill="#0000cd"/>
<rect x="1015" y="359" width="1" height="7" fill="#0000cd"/>
<rect x="1014" y="362" width="3" height="3" fill="#0000cd"/>
</g>
<g shape-rendering="crispEdges" fill="#a52a2a">
<rect x="10" y="293" width="2" height="1"/>
<rect x="12" y="294" width="2" height="1"/>
<rect x="14" y="295" width="2" height="1"/>
<rect x="16" y="296" width="2" height="1"/>
<rect x="18" y="297" width="3" height="1"/>
<rect x="21" y="298" width="4" height="1"/>
<rect x="25" y="299" width="1" height="1"/>
<rect x="26" y="298" width="6" height="1"/>
<rect x="32" y="297" width="10" height="1"/>
<rect x="42" y="296" width="10" height="1"/>
<rect x="52" y="295" width="7" height="1"/>
<rect x="59" y="294" width="2" height="1"/>
<rect x="61" y="293" width="3" height="1"/>
<rect x="64" y="292" width="2" height="1"/>
<rect x="66" y="291" width="3" height="1"/>
<rect x="69" y="290" width="2" height="1"/>
<rect x="71" y="289" width="3" height="1"/>
<rect x="74" y="288" width="2" height="1"/>
<rect x="76" y="287" width="3" height="1"/>
<rect x="79" y="286" width="3" height="1"/>
<rect x="82" y="285" width="3" height="1"/>
<rect x="85" y="284" width="2" height="1"/>
<rect x="87" y="283" width="2" height="1"/>
<rect x="89" y="282" width="2" height="1"/>
<rect x="91" y="281" width="2" height="1"/>
<rect x="93" y="280" width="1" height="1"/>
<rect x="94" y="279" width="2" height="1"/>
<rect x="96" y="278" width="2" height="1"/>
<rect x="98" y="277" width="1" height="1"/>
<rect x="99" y="276" width="2" height="1"/>
<rect x="101" y="275" width="1" height="1"/>
<rect x="102" y="274" width="3" height="1"/>
<rect x="105" y="273" width="2" height="1"/>
<rect x="107" y="272" width="2" height="1"/>
<rect x="109" y="271" width="3" height="1"/>
<rect x="112" y="270" width="5" height="1"/>
<rect x="117" y="269" width="7" height="1"/>
<rect x="124" y="268" width="6" height="1"/>
<rect x="130" y="267" width="5" height="1"/>
<rect x="135" y="266" width="8" height="1"/>
<rect x="143" y="267" width="3" height="1"/>
<rect x="146" y="268" width="4" height="1"/>
<rect x="150" y="269" width="2" height="1"/>
<rect x="152" y="270" width="2" height="1"/>
<rect x="154" y="271" width="3" height="1"/>
<rect x="157" y="272" width="3" height="1"/>
<rect x="160" y="273" width="3" height="1"/>
<rect x="163" y="274" width="12" height="1"/>
<rect x="175" y="273" width="3" height="1"/>
<rect x="178" y="272" width="3" height="1"/>
<rect x="181" y="271" width="6" height="1"/>
<rect x="187" y="270" width="5" height="1"/>
<rect x="192" y="269" width="5" height="1"/>
<rect x="197" y="268" width="4" height="1"/>
<rect x="201" y="267" width="4" height="1"/>
<rect x="205" y="266" width="3" height="1"/>
<rect x="208" y="265" width="3" height="1"/>
<rect x="211" y="264" width="4" height="1"/>
<rect x="215" y="263" width="2" height="1"/>
<rect x="217" y="262" width="3" height="1"/>
<rect x="220" y="261" width="2" height="1"/>
<rect x="222" y="260" width="3" height="1"/>
<rect x="225" y="259" width="3" height="1"/>
<rect x="228" y="258" width="3" height="1"/>
<rect x="231" y="257" width="4" height="1"/>
<rect x="235" y="256" width="10" height="1"/>
<rect x="245" y="257" width="17" height="1"/>
<rect x="262" y="258" width="10" height="1"/>
<rect x="272" y="257" width="2" height="1"/>
<rect x="274" y="256" width="2" height="1"/>
<rect x="276" y="255" width="2" height="1"/>
<rect x="278" y="254" width="2" height="1"/>
<rect x="280" y="253" width="2" height="1"/>
<rect x="282" y="252" width="1" height="1"/>
<rect x="283" y="251" width="2" height="1"/>
<rect x="285" y="250" width="1" height="1"/>
<rect x="286" y="249" width="1" height="1"/>
<rect x="287" y="248" width="2" height="1"/>
<rect x="289" y="247" width="2" height="1"/>
<rect x="291" y="246" width="2" height="1"/>
<rect x="293" y="245" width="2" height="1"/>
<rect x="295" y="244" width="2" height="1"/>
<rect x="297" y="243" width="1" height="1"/>
<rect x="298" y="242" width="3" height="1"/>
<rect x="301" y="241" width="1" height="1"/>
<rect x="302" y="240" width="3" height="1"/>
<rect x="305" y="239" width="1" height="1"/>
<rect x="306" y="238" width="2" height="1"/>
<rect x="308" y="237" width="1" height="1"/>
<rect x="309" y="236" width="2" height="1"/>
<rect x="311" y="235" width="1" height="1"/>
<rect x="312" y="234" width="1" height="1"/>
<rect x="313" y="233" width="1" height="1"/>
<rect x="314" y="232" width="2" height="1"/>
<rect x="316" y="231" width="1" height="1"/>
<rect x="317" y="230" width="2" height="1"/>
<rect x="319" y="229" width="1" height="1"/>
<rect x="320" y="228" width="1" height="1"/>
<rect x="321" y="227" width="2" height="1"/>
<rect x="323" y="226" width="1" height="1"/>
<rect x="324" y="225" width="2" height="1"/>
<rect x="326" y="224" width="1" height="1"/>
<rect x="327" y="223" width="2" height="1"/>
<rect x="329" y="222" width="1" height="1"/>
<rect x="330" y="221" width="2" height="1"/>
<rect x="332" y="220" width="1" height="1"/>
<rect x="333" y="219" width="2" height="1"/>
<rect x="335" y="218" width="1" height="1"/>
<rect x="336" y="217" width="2" height="1"/>
<rect x="338" y="216" width="1" height="1"/>
<rect x="339" y="215" width="2" height="1"/>
<rect x="341" y="214" width="1" height="1"/>
<rect x="342" y="213" width="2" height="1"/>
<rect x="344" y="212" width="2" height="1"/>
<rect x="346" y="211" width="1" height="1"/>
<rect x="347" y="210" width="3" height="1"/>
<rect x="350" y="209" width="1" height="1"/>
<rect x="351" y="208" width="3" height="1"/>
<rect x="354" y="207" width="3" height="1"/>
<rect x="357" y="206" width="7" height="1"/>
<rect x="364" y="205" width="2" height="1"/>
<rect x="366" y="204" width="1" height="1"/>
<rect x="367" y="203" width="2" height="1"/>
<rect x="369" y="202" width="2" height="1"/>
<rect x="371" y="201" width="2" height="1"/>
<rect x="373" y="200" width="2" height="1"/>
<rect x="375" y="199" width="2" height="1"/>
<rect x="377" y="198" width="2" height="1"/>
<rect x="379" y="197" width="2" height="1"/>
<rect x="381" y="196" width="2" height="1"/>
<rect x="383" y="195" width="4" height="1"/>
<rect x="387" y="194" width="26" height="1"/>
<rect x="413" y="193" width="6" height="1"/>
<rect x="419" y="192" width="4" height="1"/>
<rect x="423" y="191" width="3" height="1"/>
<rect x="426" y="190" width="4" height="1"/>
<rect x="430" y="189" width="3" height="1"/>
<rect x="433" y="188" width="4" height="1"/>
<rect x="437" y="187" width="5" height="1"/>
<rect x="442" y="186" width="5" height="1"/>
<rect x="447" y="185" width="11" height="1"/>
<rect x="458" y="184" width="13" height="1"/>
<rect x="471" y="183" width="6" height="1"/>
<rect x="477" y="182" width="4" height="1"/>
<rect x="481" y="181" width="3" height="1"/>
<rect x="484" y="180" width="3" height="1"/>
<rect x="487" y="179" width="3" height="1"/>
<rect x="490" y="178" width="4" height="1"/>
<rect x="494" y="177" width="3" height="1"/>
<rect x="497" y="176" width="6" height="1"/>
<rect x="503" y="175" width="6" height="1"/>
<rect x="509" y="174" width="6" height="1"/>
<rect x="515" y="173" width="3" height="1"/>
<rect x="518" y="172" width="3" height="1"/>
<rect x="521" y="171" width="3" height="1"/>
<rect x="524" y="170" width="3" height="1"/>
<rect x="527" y="169" width="2" height="1"/>
<rect x="529" y="168" width="2" height="1"/>
<rect x="531" y="167" width="2" height="1"/>
<rect x="533" y="166" width="2" height="1"/>
<rect x="535" y="165" width="3" height="1"/>
<rect x="538" y="164" width="2" height="1"/>
<rect x="540" y="163" width="2" height="1"/>
<rect x="542" y="162" width="2" height="1"/>
<rect x="544" y="161" width="1" height="1"/>
<rect x="545" y="160" width="1" height="1"/>
<rect x="546" y="159" width="2" height="1"/>
<rect x="548" y="158" width="1" height="1"/>
<rect x="549" y="157" width="2" height="1"/>
<rect x="551" y="156" width="1" height="1"/>
<rect x="552" y="155" width="2" height="1"/>
<rect x="554" y="154" width="2" height="1"/>
<rect x="556" y="153" width="1" height="1"/>
<rect x="557" y="152" width="2" height="1"/>
<rect x="559" y="151" width="1" height="1"/>
<rect x="560" y="150" width="2" height="1"/>
<rect x="562" y="149" width="1" height="1"/>
<rect x="563" y="148" width="2" height="1"/>
<rect x="565" y="147" width="2" height="1"/>
<rect x="567" y="146" width="1" height="1"/>
<rect x="568" y="145" width="2" height="1"/>
<rect x="570" y="144" width="1" height="1"/>
<rect x="571" y="143" width="1" height="1"/>
<rect x="572" y="142" width="2" height="1"/>
<rect x="574" y="141" width="1" height="1"/>
<rect x="575" y="140" width="2" height="1"/>
<rect x="577" y="138" width="1" height="2"/>
<rect x="578" y="138" width="1" height="1"/>
<rect x="579" y="136" width="1" height="2"/>
<rect x="580" y="136" width="1" height="1"/>
<rect x="581" y="134" width="1" height="2"/>
<rect x="582" y="134" width="1" height="1"/>
<rect x="583" y="133" width="2" height="1"/>
<rect x="585" y="132" width="3" height="1"/>
<rect x="588" y="131" width="2" height="1"/>
<rect x="590" y="130" width="2" height="1"/>
<rect x="592" y="129" width="2" height="1"/>
<rect x="594" y="128" width="2" height="1"/>
<rect x="596" y="127" width="2" height="1"/>
<rect x="598" y="126" width="2" height="1"/>
<rect x="600" y="124" width="1" height="2"/>
<rect x="601" y="124" width="1" height="1"/>
<rect x="602" y="122" width="1" height="2"/>
<rect x="603" y="122" width="1" height="1"/>
<rect x="604" y="120" width="1" height="2"/>
<rect x="605" y="120" width="1" height="1"/>
<rect x="606" y="119" width="1" height="1"/>
<rect x="607" y="118" width="1" height="1"/>
<rect x="608" y="117" width="1" height="1"/>
<rect x="609" y="116" width="1" height="1"/>
<rect x="610" y="115" width="1" height="1"/>
<rect x="611" y="114" width="1" height="1"/>
<rect x="612" y="113" width="1" height="1"/>
<rect x="613" y="112" width="2" height="1"/>
<rect x="615" y="111" width="2" height="1"/>
<rect x="617" y="110" width="2" height="1"/>
<rect x="619" y="109" width="2" height="1"/>
<rect x="621" y="108" width="3" height="1"/>
<rect x="624" y="109" width="8" height="1"/>
<rect x="632" y="108" width="11" height="1"/>
<rect x="643" y="107" width="3" height="1"/>
<rect x="646" y="106" width="7" height="1"/>
<rect x="653" y="107" width="1" height="1"/>
<rect x="654" y="108" width="5" height="1"/>
<rect x="659" y="108" width="1" height="2"/>
<rect x="660" y="110" width="1" height="2"/>
<rect x="661" y="112" width="2" height="1"/>
<rect x="663" y="113" width="1" height="1"/>
<rect x="664" y="114" width="1" height="1"/>
<rect x="665" y="115" width="2" height="1"/>
<rect x="667" y="116" width="2" height="1"/>
<rect x="669" y="117" width="1" height="1"/>
<rect x="670" y="118" width="3" height="1"/>
<rect x="673" y="119" width="2" height="1"/>
<rect x="675" y="120" width="1" height="1"/>
<rect x="676" y="121" width="1" height="1"/>
<rect x="677" y="122" width="1" height="1"/>
<rect x="678" y="123" width="1" height="1"/>
<rect x="679" y="124" width="2" height="1"/>
<rect x="681" y="125" width="1" height="1"/>
<rect x="682" y="126" width="1" height="1"/>
<rect x="683" y="127" width="2" height="1"/>
<rect x="685" y="128" width="1" height="1"/>
<rect x="686" y="129" width="2" height="1"/>
<rect x="688" y="130" width="1" height="1"/>
<rect x="689" y="131" width="2" height="1"/>
<rect x="691" y="132" width="2" height="1"/>
<rect x="693" y="133" width="2" height="1"/>
<rect x="695" y="134" width="2" height="1"/>
<rect x="697" y="135" width="3" height="1"/>
<rect x="700" y="136" width="2" height="1"/>
<rect x="702" y="137" width="2" height="1"/>
<rect x="704" y="138" width="2" height="1"/>
<rect x="706" y="139" width="1" height="1"/>
<rect x="707" y="140" width="1" height="1"/>
<rect x="708" y="141" width="1" height="1"/>
<rect x="709" y="142" width="1" height="1"/>
<rect x="710" y="143" width="2" height="1"/>
<rect x="712" y="144" width="1" height="1"/>
<rect x="713" y="145" width="1" height="1"/>
<rect x="714" y="146" width="1" height="1"/>
<rect x="715" y="147" width="1" height="1"/>
<rect x="716" y="148" width="2" height="1"/>
<rect x="718" y="149" width="1" height="1"/>
<rect x="719" y="150" width="1" height="1"/>
<rect x="720" y="151" width="2" height="1"/>
<rect x="722" y="152" width="1" height="1"/>
<rect x="723" y="153" width="2" height="1"/>
<rect x="725" y="154" width="2" height="1"/>
<rect x="727" y="155" width="2" height="1"/>
<rect x="729" y="156" width="3" height="1"/>
<rect x="732" y="157" width="4" height="1"/>
<rect x="736" y="158" width="6" height="1"/>
<rect x="742" y="159" width="1" height="1"/>
<rect x="743" y="160" width="2" height="1"/>
<rect x="745" y="161" width="4" height="1"/>
<rect x="749" y="162" width="4" height="1"/>
<rect x="753" y="163" width="2" height="1"/>
<rect x="755" y="164" width="2" height="1"/>
<rect x="757" y="165" width="2" height="1"/>
<rect x="759" y="166" width="2" height="1"/>
<rect x="761" y="167" width="1" height="1"/>
<rect x="762" y="168" width="2" height="1"/>
<rect x="764" y="169" width="1" height="1"/>
<rect x="765" y="170" width="1" height="1"/>
<rect x="766" y="171" width="2" height="1"/>
<rect x="768" y="172" width="1" height="1"/>
<rect x="769" y="173" width="1" height="1"/>
<rect x="770" y="174" width="1" height="1"/>
<rect x="771" y="175" width="2" height="1"/>
<rect x="773" y="176" width="1" height="2"/>
<rect x="774" y="178" width="1" height="1"/>
<rect x="775" y="179" width="1" height="1"/>
<rect x="776" y="180" width="1" height="1"/>
<rect x="777" y="181" width="1" height="1"/>
<rect x="778" y="182" width="1" height="1"/>
<rect x="779" y="183" width="1" height="1"/>
<rect x="780" y="184" width="1" height="1"/>
<rect x="781" y="185" width="1" height="1"/>
<rect x="782" y="186" width="1" height="1"/>
<rect x="783" y="187" width="1" height="1"/>
<rect x="784" y="188" width="1" height="1"/>
<rect x="785" y="189" width="1" height="1"/>
<rect x="786" y="190" width="1" height="1"/>
<rect x="787" y="191" width="1" height="1"/>
<rect x="788" y="192" width="1" height="1"/>
<rect x="789" y="193" width="1" height="1"/>
<rect x="790" y="194" width="1" height="1"/>
<rect x="791" y="195" width="1" height="2"/>
<rect x="792" y="197" width="1" height="2"/>
<rect x="793" y="199" width="1" height="1"/>
<rect x="794" y="200" width="1" height="2"/>
<rect x="795" y="202" width="1" height="1"/>
<rect x="796" y="203" width="1" height="1"/>
<rect x="797" y="204" width="2" height="1"/>
<rect x="799" y="205" width="1" height="2"/>
<rect x="800" y="207" width="1" height="1"/>
<rect x="801" y="208" width="1" height="2"/>
<rect x="802" y="210" width="1" height="2"/>
<rect x="803" y="212" width="1" height="2"/>
<rect x="804" y="214" width="1" height="2"/>
<rect x="805" y="216" width="1" height="1"/>
<rect x="806" y="216" width="1" height="2"/>
<rect x="807" y="218" width="1" height="1"/>
<rect x="808" y="219" width="1" height="1"/>
<rect x="809" y="220" width="1" height="1"/>
<rect x="810" y="221" width="1" height="1"/>
<rect x="811" y="222" width="1" height="1"/>
<rect x="812" y="223" width="1" height="1"/>
<rect x="813" y="224" width="1" height="2"/>
<rect x="814" y="226" width="1" height="1"/>
<rect x="815" y="227" width="1" height="1"/>
<rect x="816" y="228" width="1" height="2"/>
<rect x="817" y="230" width="1" height="1"/>
<rect x="818" y="231" width="1" height="1"/>
<rect x="819" y="232" width="1" height="2"/>
<rect x="820" y="234" width="1" height="1"/>
<rect x="821" y="235" width="1" height="1"/>
<rect x="822" y="236" width="1" height="2"/>
<rect x="823" y="238" width="1" height="1"/>
<rect x="824" y="239" width="1" height="2"/>
<rect x="825" y="241" width="1" height="1"/>
<rect x="826" y="242" width="1" height="2"/>
<rect x="827" y="244" width="1" height="1"/>
<rect x="828" y="245" width="1" height="1"/>
<rect x="829" y="246" width="1" height="1"/>
<rect x="830" y="247" width="1" height="1"/>
<rect x="831" y="248" width="1" height="1"/>
<rect x="832" y="249" width="1" height="1"/>
<rect x="833" y="250" width="1" height="1"/>
<rect x="834" y="251" width="1" height="1"/>
<rect x="835" y="252" width="1" height="1"/>
<rect x="836" y="253" width="1" height="1"/>
<rect x="837" y="254" width="1" height="1"/>
<rect x="838" y="255" width="1" height="2"/>
<rect x="839" y="257" width="1" height="1"/>
<rect x="840" y="258" width="1" height="1"/>
<rect x="841" y="259" width="1" height="1"/>
<rect x="842" y="260" width="1" height="2"/>
<rect x="843" y="262" width="1" height="1"/>
<rect x="844" y="263" width="1" height="1"/>
<rect x="845" y="264" width="1" height="1"/>
<rect x="846" y="265" width="1" height="2"/>
<rect x="847" y="267" width="1" height="1"/>
<rect x="848" y="268" width="1" height="1"/>
<rect x="849" y="269" width="1" height="1"/>
<rect x="850" y="270" width="1" height="2"/>
<rect x="851" y="272" width="1" height="1"/>
<rect x="852" y="273" width="1" height="1"/>
<rect x="853" y="274" width="1" height="1"/>
<rect x="854" y="275" width="1" height="2"/>
<rect x="855" y="277" width="1" height="1"/>
<rect x="856" y="278" width="1" height="2"/>
<rect x="857" y="280" width="1" height="1"/>
<rect x="858" y="281" width="1" height="2"/>
<rect x="859" y="283" width="1" height="2"/>
<rect x="860" y="285" width="1" height="2"/>
<rect x="861" y="287" width="1" height="2"/>
<rect x="862" y="289" width="1" height="1"/>
<rect x="863" y="290" width="1" height="2"/>
<rect x="864" y="292" width="1" height="2"/>
<rect x="865" y="294" width="1" height="2"/>
<rect x="866" y="296" width="1" height="2"/>
<rect x="867" y="298" width="1" height="2"/>
<rect x="868" y="300" width="1" height="2"/>
<rect x="869" y="302" width="1" height="2"/>
<rect x="870" y="304" width="1" height="2"/>
<rect x="871" y="306" width="1" height="1"/>
<rect x="872" y="307" width="1" height="1"/>
<rect x="873" y="308" width="1" height="1"/>
<rect x="874" y="309" width="1" height="2"/>
<rect x="875" y="311" width="1" height="1"/>
<rect x="876" y="312" width="1" height="1"/>
<rect x="877" y="313" width="1" height="2"/>
<rect x="878" y="315" width="1" height="2"/>
<rect x="879" y="317" width="1" height="1"/>
<rect x="880" y="318" width="1" height="2"/>
<rect x="881" y="320" width="1" height="2"/>
<rect x="882" y="322" width="1" height="1"/>
<rect x="883" y="323" width="1" height="2"/>
<rect x="884" y="325" width="1" height="2"/>
<rect x="885" y="327" width="1" height="1"/>
<rect x="886" y="328" width="1" height="2"/>
<rect x="887" y="330" width="1" height="1"/>
<rect x="888" y="331" width="1" height="2"/>
<rect x="889" y="333" width="1" height="2"/>
<rect x="890" y="335" width="1" height="1"/>
<rect x="891" y="336" width="1" height="2"/>
<rect x="892" y="338" width="1" height="1"/>
<rect x="893" y="339" width="1" height="2"/>
<rect x="894" y="341" width="1" height="2"/>
<rect x="895" y="343" width="1" height="2"/>
<rect x="896" y="345" width="1" height="1"/>
<rect x="897" y="346" width="1" height="2"/>
<rect x="898" y="348" width="1" height="2"/>
<rect x="899" y="350" width="1" height="1"/>
<rect x="900" y="351" width="1" height="2"/>
<rect x="901" y="353" width="1" height="1"/>
<rect x="902" y="354" width="1" height="2"/>
<rect x="903" y="356" width="1" height="2"/>
<rect x="904" y="358" width="1" height="1"/>
<rect x="905" y="359" width="1" height="2"/>
<rect x="906" y="361" width="1" height="1"/>
<rect x="907" y="362" width="1" height="1"/>
<rect x="908" y="363" width="1" height="1"/>
<rect x="909" y="364" width="2" height="1"/>
<rect x="911" y="365" width="1" height="1"/>
<rect x="912" y="366" width="1" height="1"/>
<rect x="913" y="367" width="1" height="1"/>
<rect x="914" y="368" width="1" height="1"/>
<rect x="915" y="369" width="1" height="1"/>
<rect x="916" y="370" width="1" height="1"/>
<rect x="917" y="371" width="2" height="1"/>
<rect x="919" y="372" width="1" height="1"/>
<rect x="920" y="373" width="1" height="1"/>
<rect x="921" y="374" width="2" height="1"/>
<rect x="923" y="375" width="1" height="1"/>
<rect x="924" y="376" width="1" height="1"/>
<rect x="925" y="377" width="2" height="1"/>
<rect x="927" y="378" width="1" height="1"/>
<rect x="928" y="379" width="2" height="1"/>
<rect x="930" y="380" width="1" height="1"/>
<rect x="931" y="381" width="2" height="1"/>
<rect x="933" y="382" width="1" height="1"/>
<rect x="934" y="383" width="8" height="1"/>
<rect x="942" y="384" width="13" height="1"/>
<rect x="955" y="383" width="7" height="1"/>
<rect x="962" y="382" width="7" height="1"/>
<rect x="969" y="381" width="3" height="1"/>
<rect x="972" y="380" width="5" height="1"/>
<rect x="977" y="379" width="3" height="1"/>
<rect x="980" y="378" width="5" height="1"/>
<rect x="985" y="377" width="4" height="1"/>
<rect x="989" y="376" width="6" height="1"/>
<rect x="995" y="375" width="8" height="1"/>
<rect x="1003" y="374" width="7" height="1"/>
<rect x="1010" y="373" width="7" height="1"/>
</g>
<g shape-rendering="crispEdges" fill="#000">
<rect x="1" y="30" width="1025" height="1"/>
<rect x="1" y="544" width="1025" height="1"/>
<rect x="1" y="30" width="1" height="515"/>
<rect x="1025" y="30" width="1" height="515"/>
<rect x="0" y="538" width="1" height="1"/>
<rect x="1026" y="538" width="1" height="1"/>
<rect x="0" y="531" width="1" height="1"/>
<rect x="1026" y="531" width="1" height="1"/>
<rect x="0" y="524" width="1" height="1"/>
<rect x="1026" y="524" width="2" height="1"/>
<rect x="0" y="517" width="1" height="1"/>
<rect x="1026" y="517" width="1" height="1"/>
<rect x="0" y="510" width="1" height="1"/>
<rect x="1026" y="510" width="1" height="1"/>
<rect x="0" y="503" width="1" height="1"/>
<rect x="1026" y="503" width="1" height="1"/>
<rect x="0" y="496" width="1" height="1"/>
<rect x="1026" y="496" width="1" height="1"/>
<rect x="0" y="489" width="1" height="1"/>
<rect x="1026" y="489" width="1" height="1"/>
<rect x="0" y="482" width="1" height="1"/>
<rect x="1026" y="482" width="1" height="1"/>
<rect x="0" y="475" width="1" height="1"/>
<rect x="1026" y="475" width="1" height="1"/>
<rect x="0" y="468" width="1" height="1"/>
<rect x="1026" y="468" width="1" height="1"/>
<rect x="0" y="461" width="1" height="1"/>
<rect x="1026" y="461" width="1" height="1"/>
<rect x="0" y="454" width="1" height="1"/>
<rect x="1026" y="454" width="2" height="1"/>
<rect x="0" y="447" width="1" height="1"/>
<rect x="1026" y="447" width="1" height="1"/>
<rect x="0" y="440" width="1" height="1"/>
<rect x="1026" y="440" width="1" height="1"/>
<rect x="0" y="433" width="1" height="1"/>
<rect x="1026" y="433" width="1" height="1"/>
<rect x="0" y="426" width="1" height="1"/>
<rect x="1026" y="426" width="1" height="1"/>
<rect x="0" y="419" width="1" height="1"/>
<rect x="1026" y="419" width="1" height="1"/>
<rect x="0" y="412" width="1" height="1"/>
<rect x="1026" y="412" width="1" height="1"/>
<rect x="0" y="405" width="1" height="1"/>
<rect x="1026" y="405" width="1" height="1"/>
<rect x="0" y="398" width="1" height="1"/>
<rect x="1026" y="398" width="1" height="1"/>
<rect x="0" y="391" width="1" height="1"/>
<rect x="1026" y="391" width="1" height="1"/>
<rect x="0" y="384" width="1" height="1"/>
<rect x="1026" y="384" width="2" height="1"/>
<rect x="0" y="378" width="1" height="1"/>
<rect x="1026" y="378" width="1" height="1"/>
<rect x="0" y="371" width="1" height="1"/>
<rect x="1026" y="371" width="1" height="1"/>
<rect x="0" y="364" width="1" height="1"/>
<rect x="1026" y="364" width="1" height="1"/>
<rect x="0" y="357" width="1" height="1"/>
<rect x="1026" y="357" width="1" height="1"/>
<rect x="0" y="350" width="1" height="1"/>
<rect x="1026" y="350" width="1" height="1"/>
<rect x="0" y="343" width="1" height="1"/>
<rect x="1026" y="343" width="1" height="1"/>
<rect x="0" y="336" width="1" height="1"/>
<rect x="1026" y="336" width="1" height="1"/>
<rect x="0" y="329" width="1" height="1"/>
<rect x="1026" y="329" width="1" height="1"/>
<rect x="0" y="322" width="1" height="1"/>
<rect x="1026" y="322" width="1" height="1"/>
<rect x="0" y="315" width="1" height="1"/>
<rect x="1026" y="315" width="2" height="1"/>
<rect x="0" y="308" width="1" height="1"/>
<rect x="1026" y="308" width="1" height="1"/>
<rect x="0" y="301" width="1" height="1"/>
<rect x="1026" y="301" width="1" height="1"/>
<rect x="0" y="294" width="1" height="1"/>
<rect x="1026" y="294" width="1" height="1"/>
<rect x="0" y="287" width="1" height="1"/>
<rect x="1026" y="287" width="1" height="1"/>
<rect x="0" y="280" width="1" height="1"/>
<rect x="1026" y="280" width="1" height="1"/>
<rect x="0" y="273" width="1" height="1"/>
<rect x="1026" y="273" width="1" height="1"/>
<rect x="0" y="266" width="1" height="1"/>
<rect x="1026" y="266" width="1" height="1"/>
<rect x="0" y="259" width="1" height="1"/>
<rect x="1026" y="259" width="1" height="1"/>
<rect x="0" y="252" width="1" height="1"/>
<rect x="1026" y="252" width="1" height="1"/>
<rect x="0" y="245" width="1" height="1"/>
<rect x="1026" y="245" width="2" height="1"/>
<rect x="0" y="238" width="1" height="1"/>
<rect x="1026" y="238" width="1" height="1"/>
<rect x="0" y="231" width="1" height="1"/>
<rect x="1026" y="231" width="1" height="1"/>
<rect x="0" y="224" width="1" height="1"/>
<rect x="1026" y="224" width="1" height="1"/>
<rect x="0" y="217" width="1" height="1"/>
<rect x="1026" y="217" width="1" height="1"/>
<rect x="0" y="210" width="1" height="1"/>
<rect x="1026" y="210" width="1" height="1"/>
<rect x="0" y="203" width="1" height="1"/>
<rect x="1026" y="203" width="1" height="1"/>
<rect x="0" y="196" width="1" height="1"/>
<rect x="1026" y="196" width="1" height="1"/>
<rect x="0" y="189" width="1" height="1"/>
<rect x="1026" y="189" width="1" height="1"/>
<rect x="0" y="182" width="1" height="1"/>
<rect x="1026" y="182" width="1" height="1"/>
<rect x="0" y="175" width="1" height="1"/>
<rect x="1026" y="175" width="2" height="1"/>
<rect x="0" y="168" width="1" height="1"/>
<rect x="1026" y="168" width="1" height="1"/>
<rect x="0" y="161" width="1" height="1"/>
<rect x="1026" y="161" width="1" height="1"/>
<rect x="0" y="154" width="1" height="1"/>
<rect x="1026" y="154" width="1" height="1"/>
<rect x="0" y="147" width="1" height="1"/>
<rect x="1026" y="147" width="1" height="1"/>
<rect x="0" y="140" width="1" height="1"/>
<rect x="1026" y="140" width="1" height="1"/>
<rect x="0" y="134" width="1" height="1"/>
<rect x="1026" y="134" width="1" height="1"/>
<rect x="0" y="127" width="1" height="1"/>
<rect x="1026" y="127" width="1" height="1"/>
<rect x="0" y="120" width="1" height="1"/>
<rect x="1026" y="120" width="1" height="1"/>
<rect x="0" y="113" width="1" height="1"/>
<rect x="1026" y="113" width="1" height="1"/>
<rect x="0" y="106" width="1" height="1"/>
<rect x="1026" y="106" width="2" height="1"/>
<rect x="0" y="99" width="1" height="1"/>
<rect x="1026" y="99" width="1" height="1"/>
<rect x="0" y="92" width="1" height="1"/>
<rect x="1026" y="92" width="1" height="1"/>
<rect x="0" y="85" width="1" height="1"/>
<rect x="1026" y="85" width="1" height="1"/>
<rect x="0" y="78" width="1" height="1"/>
<rect x="1026" y="78" width="1" height="1"/>
<rect x="0" y="71" width="1" height="1"/>
<rect x="1026" y="71" width="1" height="1"/>
<rect x="0" y="64" width="1" height="1"/>
<rect x="1026" y="64" width="1" height="1"/>
<rect x="0" y="57" width="1" height="1"/>
<rect x="1026" y="57" width="1" height="1"/>
<rect x="0" y="50" width="1" height="1"/>
<rect x="1026" y="50" width="1" height="1"/>
<rect x="0" y="43" width="1" height="1"/>
<rect x="1026" y="43" width="1" height="1"/>
<rect x="0" y="36" width="1" height="1"/>
<rect x="1026" y="36" width="2" height="1"/>
<rect x="10" y="545" width="1" height="4"/>
<rect x="22" y="545" width="1" height="4"/>
<rect x="72" y="545" width="1" height="4"/>
<rect x="122" y="545" width="1" height="4"/>
<rect x="173" y="545" width="1" height="4"/>
<rect x="223" y="545" width="1" height="4"/>
<rect x="274" y="545" width="1" height="4"/>
<rect x="320" y="545" width="1" height="4"/>
<rect x="371" y="545" width="1" height="4"/>
<rect x="425" y="545" width="1" height="4"/>
<rect x="476" y="545" width="1" height="4"/>
<rect x="526" y="545" width="1" height="4"/>
<rect x="577" y="545" width="1" height="4"/>
<rect x="627" y="545" width="1" height="4"/>
<rect x="677" y="545" width="1" height="4"/>
<rect x="728" y="545" width="1" height="4"/>
<rect x="778" y="545" width="1" height="4"/>
<rect x="829" y="545" width="1" height="4"/>
<rect x="879" y="545" width="1" height="4"/>
<rect x="930" y="545" width="1" height="4"/>
<rect x="980" y="545" width="1" height="4"/>
</g>
<text x="10.5" y="20" font-size="15.6" fill="#000" text-anchor="start" textLength="266" lengthAdjust="spacingAndGlyphs" style="stroke:#000;stroke-width:0.25px">Alerian MLP Index (AMZ INDEX)</text>
<text x="283" y="20" font-size="15.6" fill="#000" text-anchor="start" textLength="59.5" lengthAdjust="spacingAndGlyphs" style="stroke:#000;stroke-width:0.25px">316.30</text>
<text x="347.5" y="20" font-size="15.6" fill="#0000ff" text-anchor="start" textLength="38" lengthAdjust="spacingAndGlyphs" style="stroke:#0000ff;stroke-width:0.25px">2.54</text>
<text x="985" y="20" font-size="15.6" fill="#000" text-anchor="start" textLength="88.5" lengthAdjust="spacingAndGlyphs" style="stroke:none">2016-09-07</text>
<text x="10" y="45" font-size="14" fill="#0000cd" text-anchor="start" textLength="49" lengthAdjust="spacingAndGlyphs">Weekly</text>
<text x="10.5" y="65" font-size="14" fill="#a52a2a" text-anchor="start" textLength="60" lengthAdjust="spacingAndGlyphs">EMA 200</text>
<text x="1030.5" y="529" font-size="13" fill="#000" text-anchor="start" textLength="23" lengthAdjust="spacingAndGlyphs">200</text>
<text x="1030.5" y="459" font-size="13" fill="#000" text-anchor="start" textLength="23" lengthAdjust="spacingAndGlyphs">250</text>
<text x="1030.5" y="389" font-size="13" fill="#000" text-anchor="start" textLength="23" lengthAdjust="spacingAndGlyphs">300</text>
<text x="1030.5" y="320" font-size="13" fill="#000" text-anchor="start" textLength="23" lengthAdjust="spacingAndGlyphs">350</text>
<text x="1030.5" y="250" font-size="13" fill="#000" text-anchor="start" textLength="23" lengthAdjust="spacingAndGlyphs">400</text>
<text x="1030.5" y="180" font-size="13" fill="#000" text-anchor="start" textLength="23" lengthAdjust="spacingAndGlyphs">450</text>
<text x="1030.5" y="111" font-size="13" fill="#000" text-anchor="start" textLength="23" lengthAdjust="spacingAndGlyphs">500</text>
<text x="1030.5" y="41" font-size="13" fill="#000" text-anchor="start" textLength="23" lengthAdjust="spacingAndGlyphs">550</text>
<text x="13.1" y="563" font-size="13" fill="#000" text-anchor="start" textLength="20.8" lengthAdjust="spacingAndGlyphs">Oct</text>
<text x="58.0" y="563" font-size="13" fill="#000" text-anchor="start" textLength="31" lengthAdjust="spacingAndGlyphs">2012</text>
<text x="113.0" y="563" font-size="13" fill="#000" text-anchor="start" textLength="21" lengthAdjust="spacingAndGlyphs">Apr</text>
<text x="167.9" y="563" font-size="13" fill="#000" text-anchor="start" textLength="13.2" lengthAdjust="spacingAndGlyphs">Jul</text>
<text x="214.1" y="563" font-size="13" fill="#000" text-anchor="start" textLength="20.8" lengthAdjust="spacingAndGlyphs">Oct</text>
<text x="260.0" y="563" font-size="13" fill="#000" text-anchor="start" textLength="31" lengthAdjust="spacingAndGlyphs">2013</text>
<text x="311.0" y="563" font-size="13" fill="#000" text-anchor="start" textLength="21" lengthAdjust="spacingAndGlyphs">Apr</text>
<text x="365.9" y="563" font-size="13" fill="#000" text-anchor="start" textLength="13.2" lengthAdjust="spacingAndGlyphs">Jul</text>
<text x="416.1" y="563" font-size="13" fill="#000" text-anchor="start" textLength="20.8" lengthAdjust="spacingAndGlyphs">Oct</text>
<text x="462.0" y="563" font-size="13" fill="#000" text-anchor="start" textLength="31" lengthAdjust="spacingAndGlyphs">2014</text>
<text x="517.0" y="563" font-size="13" fill="#000" text-anchor="start" textLength="21" lengthAdjust="spacingAndGlyphs">Apr</text>
<text x="571.9" y="563" font-size="13" fill="#000" text-anchor="start" textLength="13.2" lengthAdjust="spacingAndGlyphs">Jul</text>
<text x="618.1" y="563" font-size="13" fill="#000" text-anchor="start" textLength="20.8" lengthAdjust="spacingAndGlyphs">Oct</text>
<text x="663.0" y="563" font-size="13" fill="#000" text-anchor="start" textLength="31" lengthAdjust="spacingAndGlyphs">2015</text>
<text x="719.0" y="563" font-size="13" fill="#000" text-anchor="start" textLength="21" lengthAdjust="spacingAndGlyphs">Apr</text>
<text x="772.9" y="563" font-size="13" fill="#000" text-anchor="start" textLength="13.2" lengthAdjust="spacingAndGlyphs">Jul</text>
<text x="820.1" y="563" font-size="13" fill="#000" text-anchor="start" textLength="20.8" lengthAdjust="spacingAndGlyphs">Oct</text>
<text x="865.0" y="563" font-size="13" fill="#000" text-anchor="start" textLength="31" lengthAdjust="spacingAndGlyphs">2016</text>
<text x="921.0" y="563" font-size="13" fill="#000" text-anchor="start" textLength="21" lengthAdjust="spacingAndGlyphs">Apr</text>
<text x="974.9" y="563" font-size="13" fill="#000" text-anchor="start" textLength="13.2" lengthAdjust="spacingAndGlyphs">Jul</text>
<text x="0.3" y="590" font-size="15.5" fill="#0000ff" text-anchor="start" textLength="43" lengthAdjust="spacingAndGlyphs">www.</text>
<text x="44.3" y="590" font-size="15.5" fill="#0000ff" text-anchor="start" textLength="130.5" lengthAdjust="spacingAndGlyphs">fullertreacymoney</text>
<text x="175.3" y="590" font-size="15.5" fill="#0000ff" text-anchor="start" textLength="36.5" lengthAdjust="spacingAndGlyphs">.com</text>
<text x="624.5" y="590" font-size="13" fill="#8a8a8a" text-anchor="start" textLength="179.5" lengthAdjust="spacingAndGlyphs">This website is © 2008-2016</text>
<text x="808" y="590" font-size="13" fill="#8a8a8a" text-anchor="start" textLength="265.5" lengthAdjust="spacingAndGlyphs">Fuller Treacy Money plc. All rights reserved</text>
</svg></body></html>
